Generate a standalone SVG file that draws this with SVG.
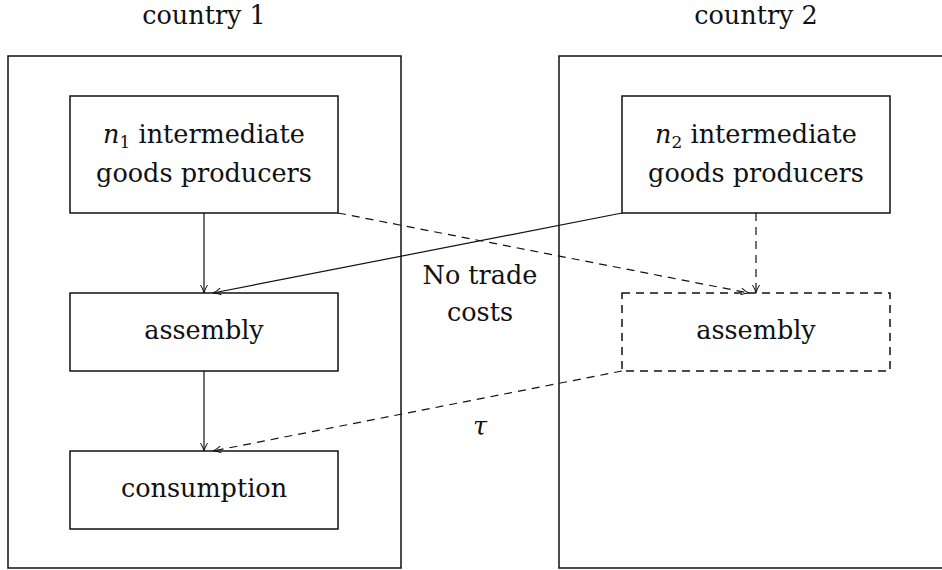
<svg xmlns="http://www.w3.org/2000/svg" width="942" height="570" viewBox="0 0 942 570">
<defs>
<style>
text{font-family:"DejaVu Serif","Liberation Serif",serif;font-size:25.5px;fill:#111;text-anchor:middle}
.box{fill:none;stroke:#111;stroke-width:1.5}
.dbox{fill:none;stroke:#111;stroke-width:1.5;stroke-dasharray:8 6}
.c{fill:none;stroke:#111;stroke-width:1.2}
.d{fill:none;stroke:#111;stroke-width:1.2;stroke-dasharray:8 6}
.m{font-style:italic}
</style>
<marker id="ar" viewBox="0 0 10 10" refX="9" refY="5" markerWidth="10" markerHeight="10" markerUnits="userSpaceOnUse" orient="auto">
<path d="M1,1.5 Q5,4 9,5 Q5,6 1,8.5" fill="none" stroke="#111" stroke-width="1"/>
</marker>
</defs>
<g id="country1">
<rect class="box" x="8" y="56" width="393" height="512"/>
<text x="204" y="24">country 1</text>
</g>
<g id="country2">
<rect class="box" x="559" y="56" width="400" height="512"/>
<text x="756" y="24">country 2</text>
</g>
<g id="n1">
<rect class="box" x="70" y="96" width="268" height="117"/>
<text x="204" y="143"><tspan class="m">n</tspan><tspan font-size="17" dy="5">1</tspan><tspan dy="-5"> intermediate</tspan></text>
<text x="204" y="182">goods producers</text>
</g>
<g id="assembly1">
<rect class="box" x="70" y="293" width="268" height="78"/>
<text x="204" y="339">assembly</text>
</g>
<g id="consumption">
<rect class="box" x="70" y="451" width="268" height="78"/>
<text x="204" y="497">consumption</text>
</g>
<g id="n2">
<rect class="box" x="622" y="96" width="268" height="117"/>
<text x="756" y="143"><tspan class="m">n</tspan><tspan font-size="17" dy="5">2</tspan><tspan dy="-5"> intermediate</tspan></text>
<text x="756" y="182">goods producers</text>
</g>
<g id="assembly2">
<rect class="dbox" x="622" y="293" width="268" height="78"/>
<text x="756" y="339">assembly</text>
</g>
<g id="connectors">
<line class="c" x1="204" y1="213" x2="204" y2="293" marker-end="url(#ar)"/>
<line class="c" x1="204" y1="371" x2="204" y2="451" marker-end="url(#ar)"/>
<line class="c" x1="622" y1="213" x2="213" y2="293" marker-end="url(#ar)"/>
<line class="d" x1="338" y1="213" x2="749" y2="293" marker-end="url(#ar)"/>
<line class="d" x1="756" y1="213" x2="756" y2="293" marker-end="url(#ar)"/>
<line class="d" x1="622" y1="371" x2="213" y2="451" marker-end="url(#ar)"/>
</g>
<g id="labels">
<text x="480" y="284">No trade</text>
<text x="480" y="321">costs</text>
<text class="m" x="480" y="435">τ</text>
</g>
</svg>
